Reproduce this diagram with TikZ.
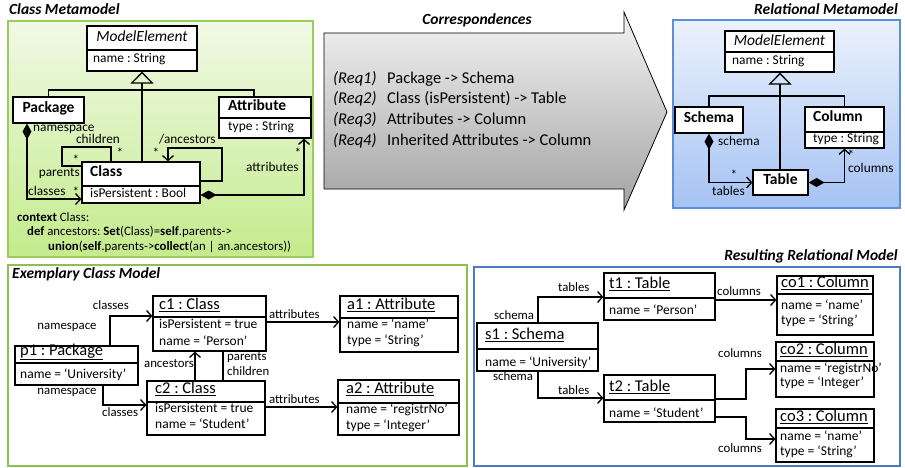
\documentclass[tikz,border=0pt]{standalone}
\usepackage{fontspec}
\setmainfont{Carlito}
\usetikzlibrary{arrows.meta}
\frenchspacing
\definecolor{grnedge}{HTML}{9ACD5C}
\definecolor{grntop}{HTML}{F1F9E6}
\definecolor{grnbot}{HTML}{C4EB8C}
\definecolor{grnframe}{HTML}{8CC152}
\definecolor{bluedge}{HTML}{5B8FD6}
\definecolor{bluetop}{HTML}{ECF2FC}
\definecolor{bluebot}{HTML}{A5C2F3}
\definecolor{blueframe}{HTML}{4A7EBB}
\definecolor{greytop}{HTML}{F4F4F4}
\definecolor{greybot}{HTML}{A2A2A2}

% a UML box given by its corners (x1,y1) and (x2,y2)
\newcommand{\umlbox}[5]{%
  \node[box, minimum width={(#4-#2)*1pt}, minimum height={(#5-#3)*1pt}] (#1) at ({(#2+#4)/2},{(#3+#5)/2}) {};}
% compartment divider of a box at height y
\newcommand{\umlsep}[2]{\draw[sepline] (#1.west |- 0,#2) -- (#1.east |- 0,#2);}

\begin{document}
\begin{tikzpicture}[x=1pt,y=-1pt,
  box/.style={draw=black, line width=1.2pt, fill=white, inner sep=0pt},
  sepline/.style={draw=black, line width=1.2pt},
  link/.style={draw=black, line width=1.3pt},
  opena/.style={-{Straight Barb[length=5pt,width=11pt]}},
  comp/.style={{Diamond[length=16pt,width=9pt]}-{Straight Barb[length=5pt,width=11pt]}},
  gen/.style={-{Triangle[open,length=12pt,width=23pt]}},
  tx/.style={inner sep=0pt, anchor=mid west},
  tc/.style={inner sep=0pt, anchor=mid},
  tr/.style={inner sep=0pt, anchor=mid east},
  ttl/.style={font=\fontsize{15.5}{18}\bfseries\itshape\selectfont},
  mmcls/.style={font=\fontsize{15.5}{18}\bfseries\selectfont},
  mmabs/.style={font=\fontsize{15.5}{18}\itshape\selectfont},
  mmatt/.style={font=\fontsize{13.4}{16}\selectfont},
  lab/.style={font=\fontsize{13.3}{15}\selectfont},
  olab/.style={font=\fontsize{12.8}{15}\selectfont},
  ocl/.style={font=\fontsize{12.8}{15}\selectfont},
  req/.style={font=\fontsize{16.5}{19}\selectfont},
  objt/.style={font=\fontsize{16.5}{19}\selectfont},
  obja/.style={font=\fontsize{13.5}{16}\selectfont}]

\useasboundingbox (0,0) rectangle (905,468);
\fill[white] (0,0) rectangle (905,468);

% ---------------- panels ----------------
\path[draw=grnedge, line width=1.5pt, top color=grntop, bottom color=grnbot] (8,21) rectangle (313,257);
\path[draw=bluedge, line width=1.5pt, top color=bluetop, bottom color=bluebot] (673,20) rectangle (900,208);
\draw[grnframe, line width=2.5pt] (8,265) rectangle (467,466);
\draw[blueframe, line width=2.5pt] (474,267) rectangle (900,466);
\path[draw=black, line width=0.8pt, top color=greytop, bottom color=greybot]
  (324,33) -- (624,33) -- (624,12) -- (667,112) -- (624,210) -- (624,189) -- (324,189) -- cycle;

\node[tx,ttl] (ttlA) at (9,12) {Class Metamodel};
\node[tc,ttl] (ttlB) at (477,22) {Correspondences};
\node[tr,ttl] (ttlC) at (898,12) {Relational Metamodel};
\node[tx,ttl] (ttlD) at (12,276) {Exemplary Class Model};
\node[tr,ttl] (ttlE) at (898,258) {Resulting Relational Model};

% ---------------- correspondences ----------------
\node[tx,req] (rq1a) at (333,81) {\itshape (Req1)};
\node[tx,req] (rq1b) at (387,81) {Package -> Schema};
\node[tx,req] (rq2a) at (333,101) {\itshape (Req2)};
\node[tx,req] (rq2b) at (387,101) {Class (isPersistent) -> Table};
\node[tx,req] (rq3a) at (333,122) {\itshape (Req3)};
\node[tx,req] (rq3b) at (387,122) {Attributes -> Column};
\node[tx,req] (rq4a) at (333,143) {\itshape (Req4)};
\node[tx,req] (rq4b) at (387,143) {Inherited Attributes -> Column};

% ---------------- class metamodel ----------------
\umlbox{mmA}{87}{26}{197}{71}
\umlsep{mmA}{50}
\node[tc,mmabs] (mmAn) at (142,39) {ModelElement};
\node[tx,mmatt] (mmAa) at (93,60) {name : String};

\umlbox{pkg}{13}{97}{84}{123}
\node[tc,mmcls] (pkgn) at (pkg) {Package};

\umlbox{attr}{219}{97}{311}{138}
\umlsep{attr}{118}
\node[tx,mmcls] (attrn) at (228,108) {Attribute};
\node[tx,mmatt] (attra) at (228,128) {type : String};

\umlbox{cls}{82}{162}{200}{203}
\umlsep{cls}{186}
\node[tx,mmcls] (clsn) at (90,174) {Class};
\node[tx,mmatt] (clsa) at (90,195) {isPersistent : Bool};

\coordinate (gj) at (142,90);
\draw[link] (pkg.north) |- (gj) -| (attr.north -| 254,0);
\draw[link] (gj) -- (cls.north -| gj);
\draw[link,gen] (gj) -- (mmA.south);

\draw[link,comp] (pkg.south -| 27,0) |- (cls.west |- 0,199);
\node[tx,lab] (l1) at (33,129) {namespace};
\node[tx,lab] (l2) at (28,193) {classes};
\node[tc,lab] (l3) at (76,194) {*};

\draw[link] (cls.west |- 0,166) -| (62,147) -| (cls.north -| 111,0);
\node[tc,lab] (l4) at (98,141) {children};
\node[tc,lab] (l5) at (120,155) {*};
\node[tc,lab] (l6) at (76,162) {*};
\node[tr,lab] (l7) at (80,174) {parents};

\draw[link,opena] (cls.east |- 0,181) -| (222,148) -| (cls.north -| 168,0);
\node[tx,lab] (l8) at (159,141) {/ancestors};
\node[tc,lab] (l9) at (156,155) {*};

\draw[link,comp] (cls.east |- 0,195) -| (attr.south -| 304,0);
\node[tc,lab] (l10) at (298,155) {*};
\node[tx,lab] (l11) at (246,169) {attributes};

\node[tx,ocl] (ocl1) at (17,219) {\textbf{context} Class:};
\node[tx,ocl] (ocl2) at (27,233) {\textbf{def} ancestors: \textbf{Set}(Class)=\textbf{self}.parents->};
\node[tx,ocl] (ocl3) at (48,248) {\textbf{union}(\textbf{self}.parents->\textbf{collect}(an | an.ancestors))};

% ---------------- relational metamodel ----------------
\umlbox{rmA}{725}{31}{834}{72}
\umlsep{rmA}{52}
\node[tc,mmabs] (rmAn) at (779.5,43) {ModelElement};
\node[tx,mmatt] (rmAa) at (732,62) {name : String};

\umlbox{sch}{675}{107}{743}{133}
\node[tc,mmcls] (schn) at (sch) {Schema};

\umlbox{col}{805}{107}{884}{148}
\umlsep{col}{132}
\node[tx,mmcls] (coln) at (813,119) {Column};
\node[tx,mmatt] (cola) at (813,140) {type : String};

\umlbox{tab}{753}{170}{808}{195}
\node[tc,mmcls] (tabn) at (tab) {Table};

\coordinate (rj) at (780,96);
\draw[link] (sch.north) |- (rj) -| (col.north);
\draw[link] (rj) -- (tab.north -| rj);
\draw[link,gen] (rj) -- (rmA.south -| rj);

\draw[link,comp] (sch.south) |- (tab.west);
\node[tx,lab] (r1) at (718,143) {schema};
\node[tc,lab] (r2) at (734,177) {*};
\node[tx,lab] (r3) at (712,193) {tables};

\draw[link,comp] (tab.east) -| (col.south);
\node[tc,lab] (r4) at (851,157) {*};
\node[tx,lab] (r5) at (848,170) {columns};

% ---------------- exemplary class model ----------------
\umlbox{p1}{15}{346}{138}{385}
\umlsep{p1}{363}
\node[tx,objt] (p1n) at (20,353) {\underline{p1 : Package}};
\node[tx,obja] (p1a) at (20,376) {name = ‘University’};

\umlbox{c1}{153}{296}{266}{351}
\umlsep{c1}{317}
\node[tx,objt] (c1n) at (159,307) {\underline{c1 : Class}};
\node[tx,obja] (c1a) at (159,326) {isPersistent = true};
\node[tx,obja] (c1b) at (159,343) {name = ‘Person’};

\umlbox{c2}{147}{381}{265}{435}
\umlsep{c2}{402}
\node[tx,objt] (c2n) at (155,391) {\underline{c2 : Class}};
\node[tx,obja] (c2a) at (155,410) {isPersistent = true};
\node[tx,obja] (c2b) at (155,426) {name = ‘Student’};

\umlbox{a1}{340}{296}{458}{352}
\umlsep{a1}{318}
\node[tx,objt] (a1n) at (347,307) {\underline{a1 : Attribute}};
\node[tx,obja] (a1a) at (347,326) {name = ‘name’};
\node[tx,obja] (a1b) at (347,342) {type = ‘String’};

\umlbox{a2}{338}{380}{459}{435}
\umlsep{a2}{403}
\node[tx,objt] (a2n) at (346,391) {\underline{a2 : Attribute}};
\node[tx,obja] (a2a) at (346,411) {name = ‘registrNo’};
\node[tx,obja] (a2b) at (346,427) {type = ‘Integer’};

\draw[link,opena] (p1.north -| 110,0) |- (c1.west |- 0,316);
\node[tc,olab] (e1) at (67,327) {namespace};
\node[tr,olab] (e2) at (129,307) {classes};

\draw[link,opena] (p1.south -| 103,0) |- (c2.west |- 0,405);
\node[tc,olab] (e3) at (67,392) {namespace};
\node[tx,olab] (e4) at (102,414) {classes};

\draw[link,opena] (c1.east |- 0,322) -- (a1.west |- 0,322);
\node[tx,olab] (e5) at (269,316) {attributes};
\draw[link,opena] (c2.east |- 0,407) -- (a2.west |- 0,407);
\node[tx,olab] (e6) at (269,401) {attributes};

\draw[link,opena] (c2.north -| 195,0) -- (c1.south -| 195,0);
\node[tr,olab] (e7) at (194,365) {ancestors};
\draw[link] (c1.south -| 223,0) -- (c2.north -| 223,0);
\node[tx,olab] (e8) at (227,358) {parents};
\node[tx,olab] (e9) at (227,373) {children};

% ---------------- resulting relational model ----------------
\umlbox{s1}{477}{323}{598}{371}
\umlsep{s1}{349}
\node[tx,objt] (s1n) at (485,337) {\underline{s1 : Schema}};
\node[tx,obja] (s1a) at (485,364) {name = ‘University’};

\umlbox{t1}{604}{273}{715}{320}
\umlsep{t1}{298}
\node[tx,objt] (t1n) at (609,286) {\underline{t1 : Table}};
\node[tx,obja] (t1a) at (609,312) {name = ‘Person’};

\umlbox{t2}{604}{375}{715}{422}
\umlsep{t2}{400}
\node[tx,objt] (t2n) at (609,389) {\underline{t2 : Table}};
\node[tx,obja] (t2a) at (609,415) {name = ‘Student’};

\umlbox{co1}{777}{276}{873}{335}
\umlsep{co1}{294}
\node[tx,objt] (co1n) at (781,285) {\underline{co1 : Column}};
\node[tx,obja] (co1a) at (781,307) {name = ‘name’};
\node[tx,obja] (co1b) at (781,322) {type = ‘String’};

\umlbox{co2}{776}{342}{874}{397}
\umlsep{co2}{361}
\node[tx,objt] (co2n) at (780,352) {\underline{co2 : Column}};
\node[tx,obja] (co2a) at (780,370) {name = ‘registrNo’};
\node[tx,obja] (co2b) at (780,384) {type = ‘Integer’};

\umlbox{co3}{776}{409}{874}{462}
\umlsep{co3}{428}
\node[tx,objt] (co3n) at (780,419) {\underline{co3 : Column}};
\node[tx,obja] (co3a) at (780,438) {name = ‘name’};
\node[tx,obja] (co3b) at (780,453) {type = ‘String’};

\draw[link,opena] (s1.north -| 538,0) |- (t1.west |- 0,297);
\node[tx,olab] (g1) at (494,317) {schema};
\node[tx,olab] (g2) at (558,289) {tables};
\draw[link,opena] (s1.south -| 538,0) |- (t2.west |- 0,398);
\node[tx,olab] (g3) at (493,378) {schema};
\node[tx,olab] (g4) at (558,392) {tables};

\draw[link,opena] (t1.east |- 0,300) -- (co1.west |- 0,300);
\node[tx,olab] (g5) at (717,293) {columns};
\draw[link,opena] (t2.east |- 0,399) -| (746,369) -- (co2.west |- 0,369);
\node[tx,olab] (g6) at (718,355) {columns};
\draw[link,opena] (t2.east |- 0,417) -| (746,439) -- (co3.west |- 0,439);
\node[tx,olab] (g7) at (718,450) {columns};

\end{tikzpicture}
\end{document}
